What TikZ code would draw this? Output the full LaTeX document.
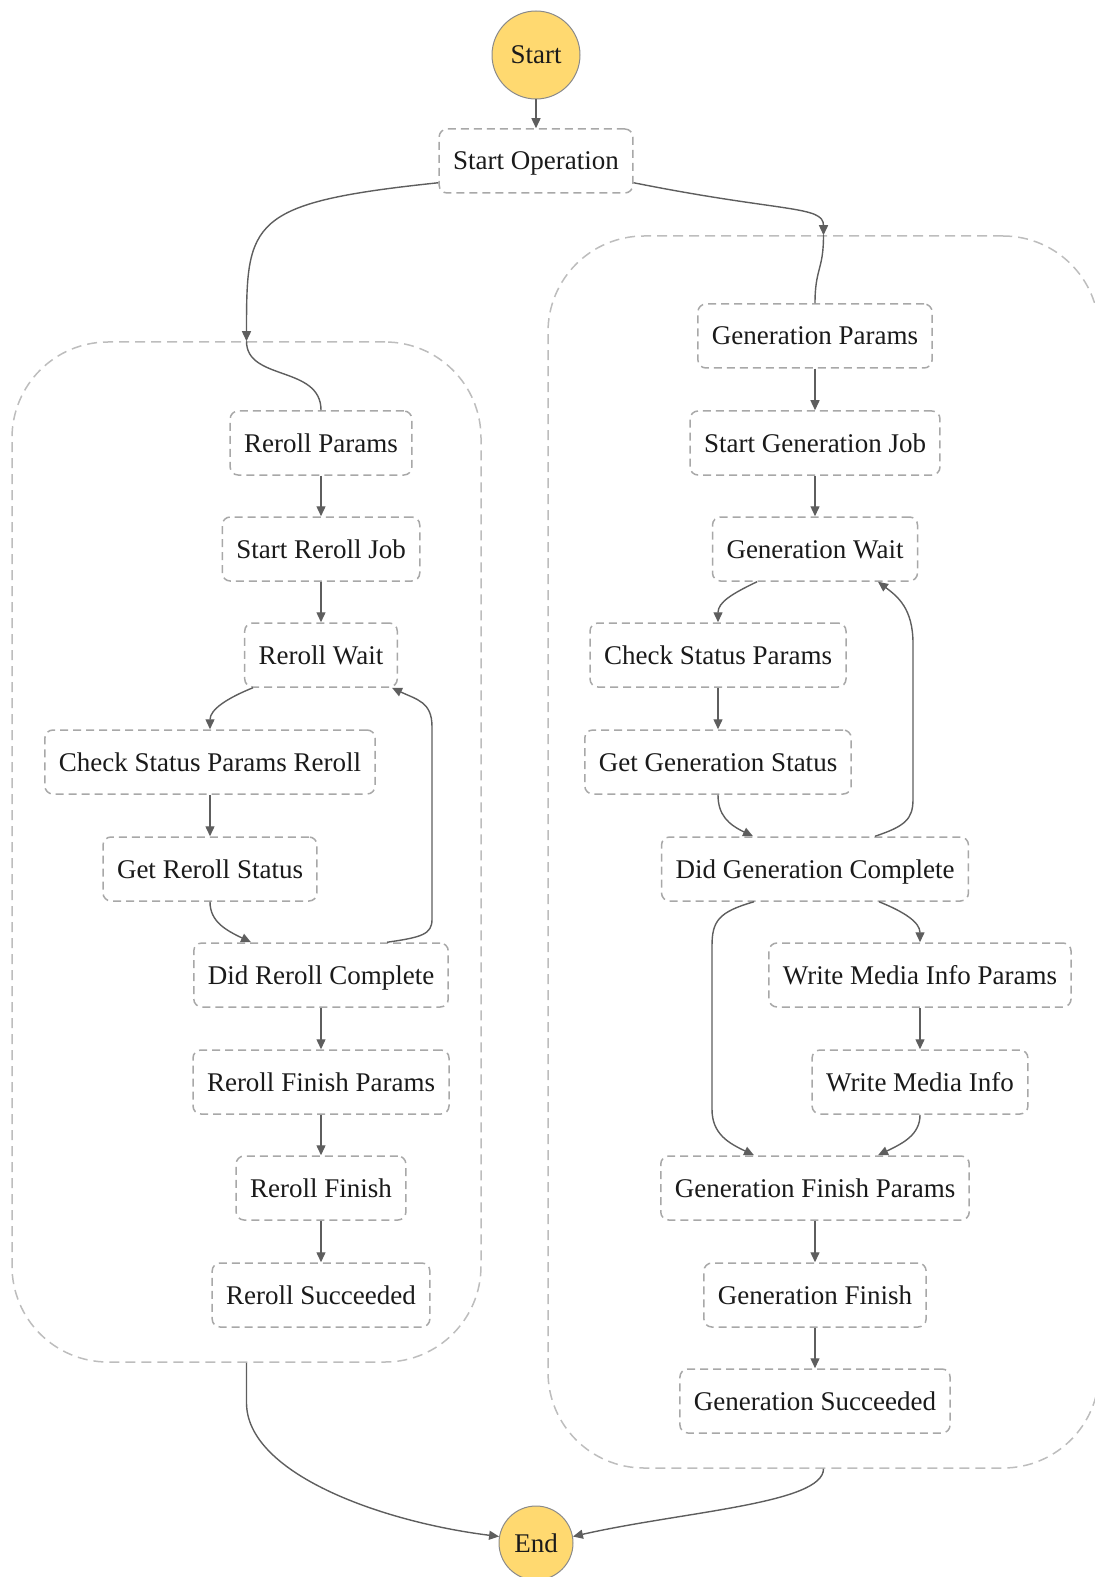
\documentclass[tikz,border=0pt]{standalone}
\usepackage{fontspec}
\setmainfont{Liberation Serif}
\usepackage{tikz}
\usetikzlibrary{arrows.meta}
\definecolor{stategray}{HTML}{A8A8A8}
\definecolor{groupgray}{HTML}{BDBDBD}
\definecolor{arrowgray}{HTML}{5E5E5E}
\definecolor{termyellow}{HTML}{FFD970}
\definecolor{termline}{HTML}{8A8A8A}
\definecolor{labelblack}{HTML}{1A1A1A}

\begin{document}
\begin{tikzpicture}[x=0.5pt,y=-0.5pt,font=\fontsize{13.5pt}{16pt}\selectfont,text=labelblack,
  statebox/.style={draw=stategray,line width=0.75pt,dash pattern=on 4pt off 2.5pt,rounded corners=4pt,fill=white,minimum height=32pt,inner xsep=7pt,text height=0.9em,text depth=0pt},
  groupbox/.style={draw=groupgray,line width=0.75pt,dash pattern=on 5pt off 3pt,rounded corners=48pt},
  terminal/.style={circle,draw=termline,line width=0.5pt,fill=termyellow,inner sep=0pt,text height=0.9em,text depth=0pt},
  link/.style={draw=arrowgray,line width=0.7pt},
  flow/.style={link,-{Triangle[length=5pt,width=4.5pt]}}]
  \useasboundingbox (0,0) rectangle (1095,1577);
  \clip (0,0) rectangle (1095,1577);
  \node[groupbox,minimum width=234.5pt,minimum height=510pt] (rerollgrp) at (246.5,852) {};
  \node[groupbox,minimum width=275.5pt,minimum height=616pt] (gengrp) at (823.5,852) {};
  \node[terminal,minimum size=44pt] (startstate) at (536,55) {Start};
  \node[statebox] (startop) at (536,161) {Start Operation};
  \node[statebox] (rparams) at (321,443) {Reroll Params};
  \node[statebox] (rjob) at (321,549) {Start Reroll Job};
  \node[statebox] (rwait) at (321,655) {Reroll Wait};
  \node[statebox] (rcheck) at (210,762) {Check Status Params Reroll};
  \node[statebox] (rstatus) at (210,869) {Get Reroll Status};
  \node[statebox] (rdone) at (321,975) {Did Reroll Complete};
  \node[statebox] (rfinparams) at (321,1082) {Reroll Finish Params};
  \node[statebox] (rfinish) at (321,1188) {Reroll Finish};
  \node[statebox] (rsucc) at (321,1295) {Reroll Succeeded};
  \node[statebox] (gparams) at (815,336) {Generation Params};
  \node[statebox] (gjob) at (815,443) {Start Generation Job};
  \node[statebox] (gwait) at (815,549) {Generation Wait};
  \node[statebox] (gcheck) at (718,655) {Check Status Params};
  \node[statebox] (gstatus) at (718,762) {Get Generation Status};
  \node[statebox] (gdone) at (815,869) {Did Generation Complete};
  \node[statebox] (mparams) at (920,975) {Write Media Info Params};
  \node[statebox] (minfo) at (920,1082) {Write Media Info};
  \node[statebox] (gfinparams) at (815,1188) {Generation Finish Params};
  \node[statebox] (gfinish) at (815,1295) {Generation Finish};
  \node[statebox] (gsucc) at (815,1401) {Generation Succeeded};
  \node[terminal,minimum size=37pt] (endstate) at (536,1543) {End};
  \foreach \a/\b in {startstate/startop,rparams/rjob,rjob/rwait,rcheck/rstatus,rdone/rfinparams,rfinparams/rfinish,rfinish/rsucc,gparams/gjob,gjob/gwait,gcheck/gstatus,mparams/minfo,gfinparams/gfinish,gfinish/gsucc}
    \draw[flow] (\a) -- (\b);
  \draw[flow] ([yshift=5.5pt]startop.south west) .. controls +(-190,20) and +(0,-120) .. (rerollgrp.north);
  \draw[flow] ([yshift=5.5pt]startop.south east) .. controls +(150,30) and +(0,-30) .. (gengrp.north);
  \draw[link] (rerollgrp.north) .. controls +(0,40) and +(0,-45) .. (rparams.north);
  \draw[link] (gengrp.north) .. controls +(0,35) and +(0,-35) .. (gparams.north);
  \draw[flow] ([xshift=-34pt]rwait.south) .. controls +(-25,10) and +(0,-20) .. (rcheck.north);
  \draw[flow] ([xshift=-29pt]gwait.south) .. controls +(-25,12) and +(0,-20) .. (gcheck.north);
  \draw[flow] (rstatus.south) .. controls +(0,20) and +(-25,-12) .. ([xshift=-35pt]rdone.north);
  \draw[flow] (gstatus.south) .. controls +(0,20) and +(-25,-12) .. ([xshift=-31pt]gdone.north);
  \draw[flow] ([xshift=33pt]rdone.north) .. controls +(35,-5) and +(0,15) .. ([xshift=55.5pt,yshift=11.5pt]rdone.north)
    -- ([xshift=55.5pt,yshift=-19.5pt]rwait.south) .. controls +(0,-25) and +(25,12) .. ([xshift=35.5pt]rwait.south);
  \draw[flow] ([xshift=30pt]gdone.north) .. controls +(30,-10) and +(0,20) .. ([xshift=49pt,yshift=18.5pt]gdone.north)
    -- ([xshift=49pt,yshift=-31pt]gwait.south) .. controls +(0,-35) and +(20,15) .. ([xshift=31.5pt]gwait.south);
  \draw[flow] ([xshift=-30.5pt]gdone.south) .. controls +(-35,10) and +(0,-25) .. ([xshift=-51.5pt,yshift=-22pt]gdone.south)
    -- ([xshift=-51.5pt,yshift=23pt]gfinparams.north) .. controls +(0,25) and +(-25,-12) .. ([xshift=-30.5pt]gfinparams.north);
  \draw[flow] ([xshift=32pt]gdone.south) .. controls +(25,10) and +(0,-20) .. (mparams.north);
  \draw[flow] (minfo.south) .. controls +(0,20) and +(25,-12) .. ([xshift=31.5pt]gfinparams.north);
  \draw[flow] (rerollgrp.south) -- ++(0,40) .. controls +(0,70) and +(-120,-15) .. (endstate.170);
  \draw[flow] (gengrp.south) .. controls +(0,35) and +(110,-25) .. (endstate.10);
\end{tikzpicture}
\end{document}
